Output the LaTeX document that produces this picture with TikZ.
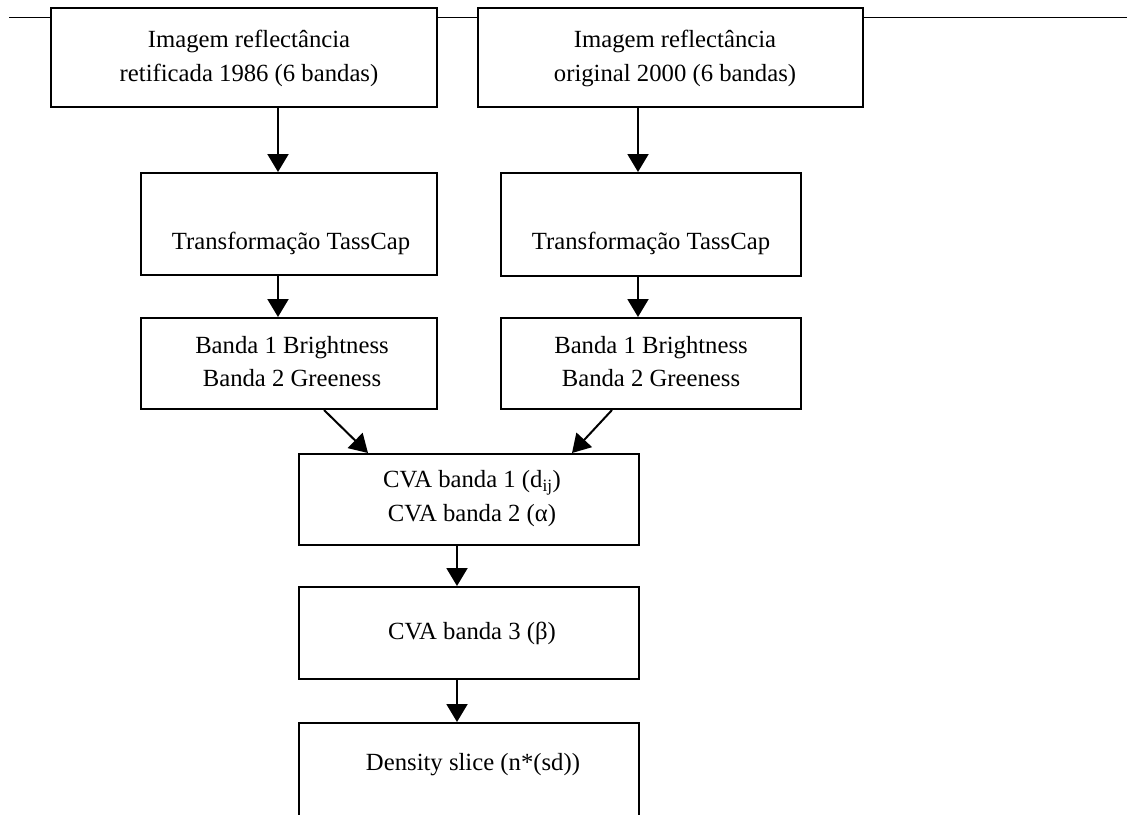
\documentclass[tikz,border=0pt]{standalone}
\usepackage{fontspec}
\setmainfont{Liberation Serif}
\usetikzlibrary{arrows.meta}
\begin{document}
\begin{tikzpicture}[x=1pt,y=-1pt,
  box/.style={draw,line width=2pt,fill=white,inner sep=0pt,rectangle},
  txt/.style={inner sep=0pt,align=center,font=\fontsize{24.7}{33.5}\selectfont},
  flow/.style={line width=2pt,-{Triangle[width=21pt,length=18pt]}}]
\useasboundingbox (0,0) rectangle (1127,814);
\clip (0,0) rectangle (1127,814);
\fill[white] (0,0) rectangle (1127,814);

% horizontal rule running behind the two top boxes
\coordinate (rule-l) at (9,17.5);
\coordinate (rule-r) at (1127,17.5);
\draw[line width=1.5pt] (rule-l) -- (rule-r);

% boxes
\node[box,minimum width=386pt,minimum height=99pt]  (b1) at (244,57.5) {};
\node[box,minimum width=385pt,minimum height=99pt]  (b2) at (670.5,57.5) {};
\node[box,minimum width=296pt,minimum height=102pt] (b3) at (289,224) {};
\node[box,minimum width=300pt,minimum height=103pt] (b4) at (651,224.5) {};
\node[box,minimum width=296pt,minimum height=91pt]  (b5) at (289,363.5) {};
\node[box,minimum width=300pt,minimum height=91pt]  (b6) at (651,363.5) {};
\node[box,minimum width=340pt,minimum height=91pt]  (b7) at (469,499.5) {};
\node[box,minimum width=340pt,minimum height=92pt]  (b8) at (469,633) {};
\node[box,minimum width=340pt,minimum height=110pt] (b9) at (469,778) {};

% box texts
\node[txt] (t1) at (249,58.5) {Imagem reflectância\\retificada 1986 (6 bandas)};
\node[txt] (t2) at (675,58.5) {Imagem reflectância\\original 2000 (6 bandas)};
\node[txt] (t3) at (291,243) {Transformação TassCap};
\node[txt] (t4) at (651,243) {Transformação TassCap};
\node[txt] (t5) at (292,361.5) {Banda 1 Brightness\\Banda 2 Greeness};
\node[txt] (t6) at (651,361.5) {Banda 1 Brightness\\Banda 2 Greeness};
\node[txt] (t7) at (472,498.5) {CVA banda 1 (d\textsubscript{ij})\\CVA banda 2 (α)};
\node[txt] (t8) at (472,633) {CVA banda 3 (β)};
\node[txt] (t9) at (473,765) {Density slice (n*(sd))};

% arrow columns
\coordinate (cl) at (278,0);
\coordinate (cr) at (638,0);
\coordinate (cm) at (457,0);

\draw[flow] (b1.south -| cl) -- (b3.north -| cl);
\draw[flow] (b2.south -| cr) -- (b4.north -| cr);
\draw[flow] (b3.south -| cl) -- (b5.north -| cl);
\draw[flow] (b4.south -| cr) -- (b6.north -| cr);
\draw[flow] ([xshift=35pt]b5.south) -- ([xshift=-101pt]b7.north);
\draw[flow] ([xshift=-39pt]b6.south) -- ([xshift=103pt]b7.north);
\draw[flow] (b7.south -| cm) -- (b8.north -| cm);
\draw[flow] (b8.south -| cm) -- (b9.north -| cm);
\end{tikzpicture}
\end{document}
